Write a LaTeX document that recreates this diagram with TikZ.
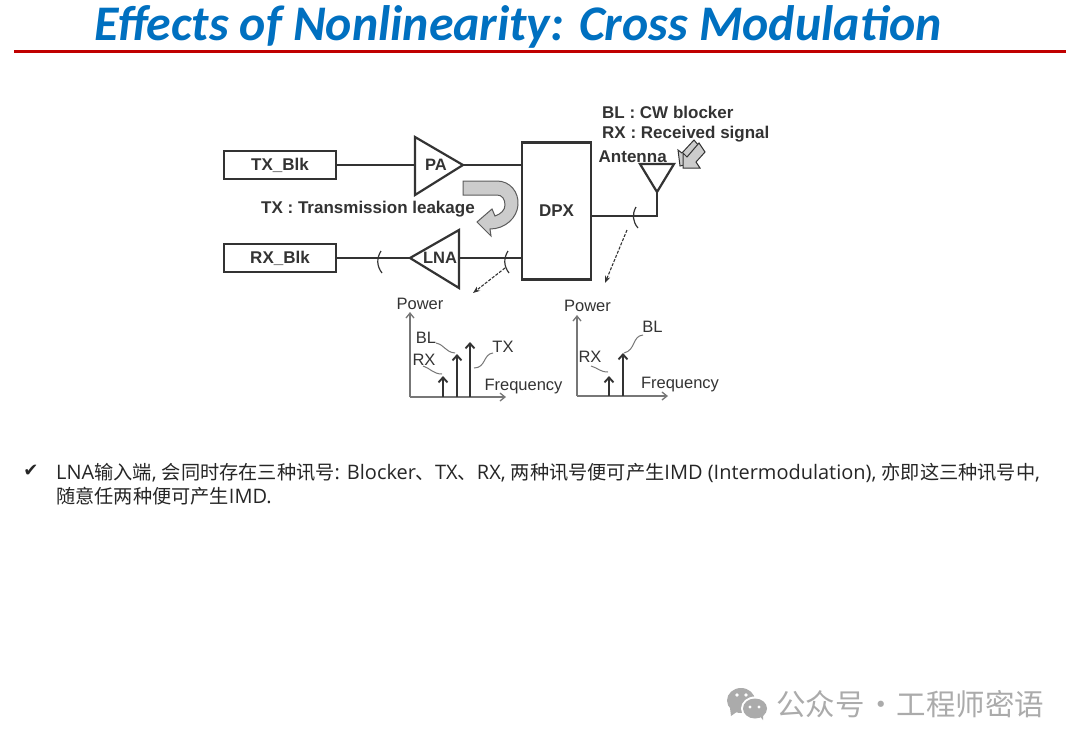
\documentclass[tikz,border=0pt]{standalone}
\usepackage{fontspec}
\setmainfont{Liberation Sans}
\newfontfamily\titlefont{Carlito}
\newfontfamily\bodyfont[Scale=1.04]{Open Sans}
\newfontfamily\cjk{Noto Sans CJK SC}
\newfontfamily\checkfont{DejaVu Sans}
\usetikzlibrary{arrows.meta,positioning}
\definecolor{titleblue}{HTML}{0070C0}
\definecolor{rulered}{HTML}{C00000}
\definecolor{linegray}{HTML}{333333}
\definecolor{axisgray}{HTML}{777777}
\definecolor{arrowgray}{HTML}{CCCCCC}
\definecolor{markgray}{HTML}{ABABAB}
\begin{document}
\begin{tikzpicture}[x=1pt,y=-1pt,
  blk/.style={draw=linegray, line width=2.2pt, minimum width=112pt, minimum height=28.5pt, inner sep=0pt, font=\fontsize{17}{17}\selectfont\bfseries, text=linegray},
  lbl/.style={inner sep=0pt, anchor=west, font=\fontsize{17}{17}\selectfont\bfseries, text=linegray},
  tag/.style={inner sep=0pt, font=\fontsize{16.5}{16.5}\selectfont, text=linegray},
  wire/.style={draw=linegray, line width=2pt},
  amp/.style={draw=linegray, line width=2.2pt, line join=miter},
  cut/.style={draw=linegray, line width=1.2pt},
  probe/.style={draw=linegray, line width=1.1pt, dash pattern=on 3pt off 1.5pt, -{Stealth[length=7pt]}},
  axis/.style={draw=axisgray, line width=1.3pt, -{Straight Barb[length=5pt,width=8pt]}},
  tone/.style={draw=linegray, line width=1.9pt, -{Straight Barb[length=5pt,width=9pt]}},
  leader/.style={draw=axisgray, line width=1pt},
  body/.style={inner sep=0pt, anchor=west, font=\fontsize{19.2}{19.2}\selectfont\bodyfont, text=black!85}
]
\useasboundingbox (0,0) rectangle (1080,748);
\fill[white] (0,0) rectangle (1080,748);
% title
\node[inner sep=0pt, text=titleblue, font=\fontsize{49.8}{49.8}\selectfont\titlefont\bfseries\itshape] (title) at (518,27) {Effects of Nonlinearity: Cross Modulation};
\coordinate (ruleL) at (14,51.5);
\coordinate (ruleR) at (1066,51.5);
\draw[rulered, line width=3.5pt] (ruleL) -- (ruleR);
% blocks
\node[blk] (txblk) at (280,165) {\raisebox{-1pt}{TX\_Blk}};
\node[blk] (rxblk) at (280,258) {RX\_Blk};
\node[blk, minimum width=69pt, minimum height=137pt] (dpx) at (556.5,211) {\raisebox{-1.5pt}{DPX}};
\coordinate (paL) at (415,165);
\coordinate (paR) at (463,165);
\coordinate (lnaL) at (410,258);
\coordinate (lnaR) at (459,258);
\coordinate (antTip) at (657,192);
\coordinate (antFoot) at (657,216);
\draw[amp] (415,137) -- (paR) -- (415,195) -- cycle;
\draw[amp] (459,230) -- (lnaL) -- (459,288) -- cycle;
\draw[amp] (640,164) -- (674,164) -- (antTip) -- cycle;
\draw[wire] (txblk.east) -- (paL);
\draw[wire] (paR) -- (dpx.west |- paR);
\draw[wire] (rxblk.east) -- (lnaL);
\draw[wire] (lnaR) -- (dpx.west |- lnaR);
\draw[wire] (dpx.east |- antFoot) -- (antFoot) -- (antTip);
\node[tag, font=\fontsize{16.5}{16.5}\selectfont\bfseries] (paText) at (436,165) {PA};
\node[tag, font=\fontsize{16.5}{16.5}\selectfont\bfseries] (lnaText) at (440,258) {LNA};
% cuts
\draw[cut] (381,251) to[bend right=35] (382,273);
\draw[cut] (508,251) to[bend right=35] (509,273);
\draw[cut] (636,207) to[bend right=35] (638,228);
% labels
\node[lbl] (leakText) at (261,209) {TX : Transmission leakage};
\node[lbl] (blText) at (602,112) {BL : CW blocker};
\node[lbl] (rxText) at (602,134.5) {RX : Received signal};
\node[lbl] (antText) at (598.5,157) {Antenna};
% leakage arrow
\fill[arrowgray, draw=linegray!80, line width=1pt, line join=miter] (463,181) -- (497,181) .. controls (510,181) and (519,192) .. (518,205) .. controls (517,218) and (505,229) .. (490,229) -- (491,236) -- (477,222) -- (492,209) -- (495,216) .. controls (501,214) and (505,210) .. (505,205) .. controls (505,199) and (502,195) .. (497,195) -- (463,195) -- cycle;
% incoming blocker arrows
\fill[arrowgray, draw=linegray, line width=1pt, line join=miter] (680,166) -- (678,150) -- (682,153) -- (694,140) -- (699,146) -- (686,160) -- (689,164) -- cycle;
\fill[arrowgray, draw=linegray, line width=1pt, line join=miter] (699,143) -- (705,152) -- (696,162) -- (700,168) -- (683,168) -- (683,153) -- (687,157) -- cycle;
% probe arrows
\coordinate (probeA) at (505,268);
\coordinate (probeB) at (473,293);
\coordinate (probeC) at (627,230);
\coordinate (probeD) at (605,283);
\draw[probe] (probeA) -- (probeB);
\draw[probe] (probeC) -- (probeD);
% left spectrum
\coordinate (o1) at (410,397);
\coordinate (y1) at (410,312);
\coordinate (x1) at (506,397);
\draw[axis] (o1) -- (y1);
\draw[axis] (o1) -- (x1);
\draw[tone] (443,397) -- (443,376);
\draw[tone] (457,397) -- (457,354);
\draw[tone] (470,397) -- (470,342);
\node[tag] (power1) at (420,304) {Power};
\node[tag] (bl1) at (426,338) {BL};
\node[tag] (rx1) at (424,360) {RX};
\node[tag] (tx1) at (503,347) {TX};
\node[tag] (freq1) at (523.5,387) {Frequency};
\draw[leader] (436,343) .. controls (445,345) and (445,352) .. (455,353);
\draw[leader] (423,366) .. controls (430,368) and (433,374) .. (442,374);
\draw[leader] (493,353) .. controls (483,354) and (486,368) .. (474,368);
% right spectrum
\coordinate (o2) at (577,396);
\coordinate (y2) at (577,315);
\coordinate (x2) at (668,396);
\draw[axis] (o2) -- (y2);
\draw[axis] (o2) -- (x2);
\draw[tone] (609,396) -- (609,376);
\draw[tone] (623,396) -- (623,353);
\node[tag] (power2) at (587.5,306) {Power};
\node[tag] (bl2) at (652.5,327) {BL};
\node[tag] (rx2) at (590,357) {RX};
\node[tag] (freq2) at (680,385) {Frequency};
\draw[leader] (643,335) .. controls (632,336) and (636,350) .. (624,353);
\draw[leader] (591,366) .. controls (598,368) and (600,372) .. (608,372);
% bullet text
\node[inner sep=0pt, text=black!85, font=\fontsize{18}{18}\selectfont\checkfont] (check) at (31,471) {✔};
\node[body] (line1) at (56,473) {LNA{\cjk 输入端}, {\cjk 会同时存在三种讯号}: Blocker{\cjk 、}TX{\cjk 、}RX, {\cjk 两种讯号便可产生}IMD (Intermodulation), {\cjk 亦即这三种讯号中},};
\node[body] (line2) at (56,496) {{\cjk 随意任两种便可产生}IMD.};
% watermark
\fill[markgray] (741,700.5) ellipse (14pt and 12.5pt);
\fill[markgray] (730,708) -- (731,716) -- (738,711) -- cycle;
\fill[white] (755,708.5) ellipse (14pt and 12pt);
\fill[markgray] (755,708.5) ellipse (12pt and 10pt);
\fill[markgray] (759,715) -- (763,714) -- (763,720) -- cycle;
\foreach \px/\py in {737/695,746/695}{\fill[white] (\px,\py) circle (1.8pt);}
\foreach \px/\py in {750/707,759/707}{\fill[white] (\px,\py) circle (1.6pt);}
\node[inner sep=0pt, anchor=west, text=markgray, font=\fontsize{29.5}{29.5}\selectfont\cjk] (mark) at (776,704) {公众号\hspace{-.18em} · \hspace{-.18em}工程师密语};
\end{tikzpicture}
\end{document}
